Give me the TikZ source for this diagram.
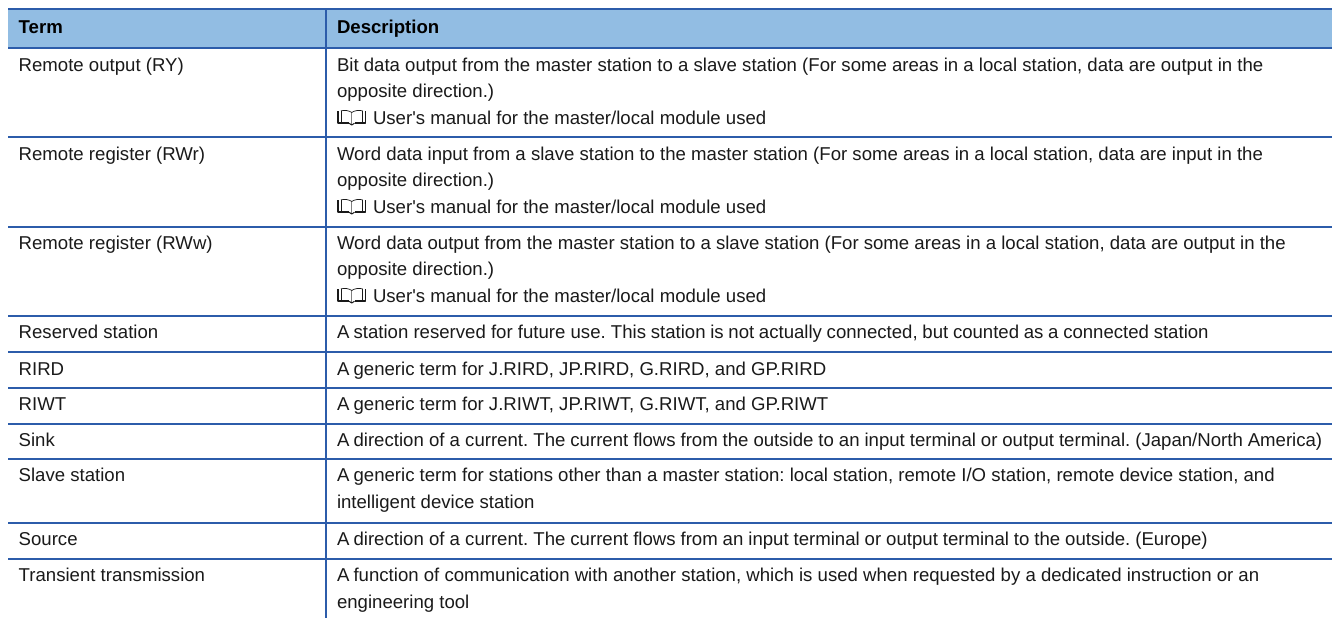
\documentclass[tikz,border=0pt]{standalone}
\usepackage{fontspec}
\setmainfont{Liberation Sans}
\frenchspacing
\definecolor{rule}{HTML}{2C5CAA}
\definecolor{headfill}{HTML}{92BDE3}
\definecolor{ink}{HTML}{1A1A1A}
\tikzset{
  x=1pt,y=-1pt,
  tline/.style={draw=rule,line width=1.7pt},
  cell/.style={anchor=base west,inner sep=0pt,outer sep=0pt,text=ink,font=\fontsize{18.6}{22}\selectfont},
  hcell/.style={cell,text=black,font=\fontsize{18.6}{22}\selectfont\bfseries},
  bookline/.style={draw=ink,line width=0.7pt,line join=round}
}
\newcommand{\bookicon}[1]{%
  \begin{scope}[shift={(337,#1)}]
    \draw[bookline,line width=1.7pt] (1,1) -- (1,13.2) -- (12,13.2);
    \draw[bookline,line width=1.7pt] (28.5,1) -- (28.5,13.2) -- (17.5,13.2);
    \draw[bookline,line width=1pt] (12,13.2) -- (14.75,15) -- (17.5,13.2);
    \draw[bookline] (4,0.8) .. controls (8,0) and (12,0.5) .. (14.75,2.5) .. controls (17.5,0.5) and (21.5,0) .. (25.5,0.8);
    \draw[bookline] (4,0.8) -- (4,11.5) (25.5,0.8) -- (25.5,11.5);
    \draw[bookline,draw=gray] (14.75,2.5) -- (14.75,13.5);
  \end{scope}}
\newcommand{\manualref}{User\textquotesingle s manual for the master/local module used}
\newcommand{\tightA}{A \kern-1pt}
\begin{document}
\begin{tikzpicture}
\useasboundingbox (0,0) rectangle (1335,618);
\fill[white] (0,0) rectangle (1335,618);
\fill[headfill] (8,9) rectangle (1331.5,47.7);
\foreach \yy in {9,47.7,137.3,226.7,316,351.7,387.7,424,459.3,522.7,559}
  \draw[tline] (8,\yy) -- (1332,\yy);
\draw[tline] (326,9) -- (326,618);
\node[hcell] (h1) at (18.7,33.3) {Term};
\node[hcell] (h2) at (337,33.3) {Description};
\node[cell] (t1) at (18.7,71) {Remote output (RY)};
\node[cell] (d1a) at (337,71) {Bit data output from the master station to a slave station (For some areas in a local station, data are output in the};
\node[cell] (d1b) at (337,97.7) {opposite direction.)};
\node[cell] (d1c) at (373,124) {\manualref};
\bookicon{110}
\node[cell] (t2) at (18.7,160) {Remote register (RWr)};
\node[cell] (d2a) at (337,160) {Word data input from a slave station to the master station (For some areas in a local station, data are input in the};
\node[cell] (d2b) at (337,186.7) {opposite direction.)};
\node[cell] (d2c) at (373,213) {\manualref};
\bookicon{199}
\node[cell] (t3) at (18.7,249) {Remote register (RWw)};
\node[cell] (d3a) at (337,249) {Word data output from the master station to a slave station (For some areas in a local station, data are output in the};
\node[cell] (d3b) at (337,275.7) {opposite direction.)};
\node[cell] (d3c) at (373,302) {\manualref};
\bookicon{288}
\node[cell] (t4) at (18.7,338.7) {Reserved station};
\node[cell] (d4) at (337,338.7) {\tightA station reserved for future use. This\spaceskip=4.7pt\relax{} station is not actually connected, but counted as a connected station};
\node[cell] (t5) at (18.7,375) {RIRD};
\node[cell] (d5) at (337,375) {\tightA generic term for J.RIRD, JP.RIRD, G.RIRD, and GP.RIRD};
\node[cell] (t6) at (18.7,410.7) {RIWT};
\node[cell] (d6) at (337,410.7) {\tightA generic term for J.RIWT, JP.RIWT, G.RIWT, and GP.RIWT};
\node[cell] (t7) at (18.7,446.7) {Sink};
\node[cell] (d7) at (337,446.7) {\tightA direction of a current. The\spaceskip=4.95pt\relax{} current flows from the outside to an input terminal or output terminal. (Japan/North America)};
\node[cell] (t8) at (18.7,481.7) {Slave station};
\node[cell] (d8a) at (337,481.7) {\tightA generic term for stations other than a master station: local station, remote I/O station, remote device station, and};
\node[cell] (d8b) at (337,508.3) {intelligent device station};
\node[cell] (t9) at (18.7,545.7) {Source};
\node[cell] (d9) at (337,545.7) {\tightA direction of a current. The\spaceskip=4.95pt\relax{} current flows from an input terminal or output terminal to the outside. (Europe)};
\node[cell] (t10) at (18.7,581.7) {Transient transmission};
\node[cell] (d10a) at (337,581.7) {\tightA function of communication with another station, which is used when requested by a dedicated instruction or an};
\node[cell] (d10b) at (337,608.3) {engineering tool};
\end{tikzpicture}
\end{document}
